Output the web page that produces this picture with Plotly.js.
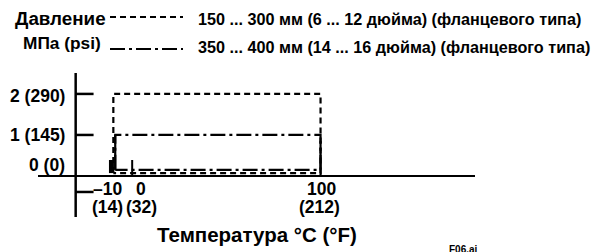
<!DOCTYPE html>
<html>
<head>
<meta charset="utf-8">
<script src="https://cdn.plot.ly/plotly-3.0.1.min.js"></script>
<style>html,body{margin:0;padding:0;background:#fff;}#chart{width:606px;height:252px;}</style>
</head>
<body>
<div id="chart"></div>
<script>
// ---- data ----
const tempC = [-10, 0, 100];
const tempF = [14, 32, 212];
const pressMPa = [0, 1, 2];
const pressPsi = [0, 145, 290];
// 150 ... 300 mm envelope (dashed)
const smallSizeX = [-10, -10, 100, 100, -10];
const smallSizeY = [0.07, 2, 2, 0.07, 0.07];
// 350 ... 400 mm envelope (dash-dot)
const largeSizeX = [-9, -9, 100, 100, -9];
const largeSizeY = [0.15, 1, 1, 0.15, 0.15];
const legendLabels = ['150 ... 300 мм (6 ... 12 дюйма) (фланцевого типа)',
                      '350 ... 400 мм (14 ... 16 дюйма) (фланцевого типа)'];
const yTitleLines = ['Давление', 'МПа (psi)'];
const xTitle = 'Температура °C (°F)';
const figId = 'F06.ai';

// ---- layout geometry ----
const W = 606, H = 252;
const mL = 38, mR = 131, mT = 73, mB = 35;
const pw = W - mL - mR, ph = H - mT - mB;
const xp = px => (px - mL) / pw;
const yp = py => (H - mB - py) / ph;
const FONT = '"Liberation Sans", Arial, sans-serif';
const yAxisAt = -30;
const f = (size) => ({family: FONT, size, color: '#000', weight: 'bold'});
const DASH = '6px,4px', DASHDOT = '15px,4px,3px,4px';

const traces = [
  {x: smallSizeX, y: smallSizeY, mode: 'lines', hoverinfo: 'skip',
   line: {color: '#000', width: 2.2, dash: DASH}},
  {x: largeSizeX, y: largeSizeY, mode: 'lines', hoverinfo: 'skip',
   line: {color: '#000', width: 2.2, dash: DASHDOT}},
  // solid vertical edges of the dash-dot envelope
  {x: largeSizeX.slice(0, 2), y: largeSizeY.slice(0, 2), mode: 'lines', hoverinfo: 'skip',
   line: {color: '#000', width: 2.2}},
  {x: largeSizeX.slice(2, 4), y: largeSizeY.slice(2, 4).map((v, i) => i === 0 ? v * 0.85 : 0), mode: 'lines', hoverinfo: 'skip',
   line: {color: '#000', width: 2.2}},
  {x: [tempC[0] - 1, tempC[0] - 1], y: [0.07, 0.39], mode: 'lines', hoverinfo: 'skip',
   line: {color: '#000', width: 5}},
  {x: [tempC[1], tempC[1]], y: [0, 0.39], mode: 'lines', hoverinfo: 'skip',
   line: {color: '#000', width: 2}}
];

const shapes = [
  {type: 'line', xref: 'x', yref: 'paper', x0: yAxisAt, x1: yAxisAt, y0: 0, y1: 1,
   line: {color: '#000', width: 2.5}},
];
// y ticks
pressMPa.slice(1).concat([-0.39]).forEach(v => shapes.push(
  {type: 'line', xref: 'x', yref: 'y', x0: yAxisAt, x1: yAxisAt + 9.5, y0: v, y1: v,
   line: {color: '#000', width: 2.5}}));
// legend samples
shapes.push({type: 'line', xref: 'paper', yref: 'paper', x0: xp(110), x1: xp(183), y0: yp(17), y1: yp(17),
  line: {color: '#000', width: 2.2, dash: DASH}});
shapes.push({type: 'line', xref: 'paper', yref: 'paper', x0: xp(110), x1: xp(183), y0: yp(49), y1: yp(49),
  line: {color: '#000', width: 2.2, dash: DASHDOT}});

const ann = [];
const txt = (text, x, y, xa, size) => ({
  text, xref: 'paper', yref: 'paper', x: xp(x), y: yp(y), xanchor: xa, yanchor: 'middle',
  showarrow: false, font: f(size)});
ann.push(txt(yTitleLines[0], 108, 18, 'right', 18.8));
ann.push(txt(yTitleLines[1], 103, 43, 'right', 17.3));
ann.push(txt(legendLabels[0], 196, 19, 'left', 16.2));
ann.push(txt(legendLabels[1], 196, 47, 'left', 16.2));
// y tick labels
const yShift = [11, 0, -2];
pressMPa.forEach((v, i) => ann.push({
  text: v + ' (' + pressPsi[i] + ')', xref: 'paper', yref: 'y', x: xp(67), y: v,
  xanchor: 'right', yanchor: 'middle', yshift: yShift[i], showarrow: false, font: f(17.5)}));
// x tick labels
const xShift = [-6, 9, 1];
tempC.forEach((c, i) => {
  const lab = c < 0 ? '–' + Math.abs(c) : String(c);
  ann.push({text: lab, xref: 'x', yref: 'paper', x: c, y: yp(189), xanchor: 'center', yanchor: 'middle',
    xshift: xShift[i], showarrow: false, font: f(17.5)});
  ann.push({text: '(' + tempF[i] + ')', xref: 'x', yref: 'paper', x: c, y: yp(206.5), xanchor: 'center', yanchor: 'middle',
    xshift: xShift[i] - (i === 2 ? 2 : 0), showarrow: false, font: f(17.5)});
});
ann.push(txt(xTitle, 257, 234, 'center', 20.5));
ann.push(txt(figId, 463, 249, 'center', 10));

const layout = {
  width: W, height: H,
  margin: {l: mL, r: mR, t: mT, b: mB, pad: 0},
  paper_bgcolor: '#fff', plot_bgcolor: 'rgba(0,0,0,0)',
  showlegend: false,
  xaxis: {range: [-50, 182], showgrid: false, zeroline: false, showticklabels: false, ticks: '', showline: false, fixedrange: true},
  yaxis: {range: [-1, 2.51], showgrid: false, zeroline: true, zerolinecolor: '#000', zerolinewidth: 2.5,
          showticklabels: false, ticks: '', showline: false, fixedrange: true},
  shapes, annotations: ann
};
Plotly.newPlot('chart', traces, layout, {staticPlot: true, displayModeBar: false});
</script>
</body>
</html>
